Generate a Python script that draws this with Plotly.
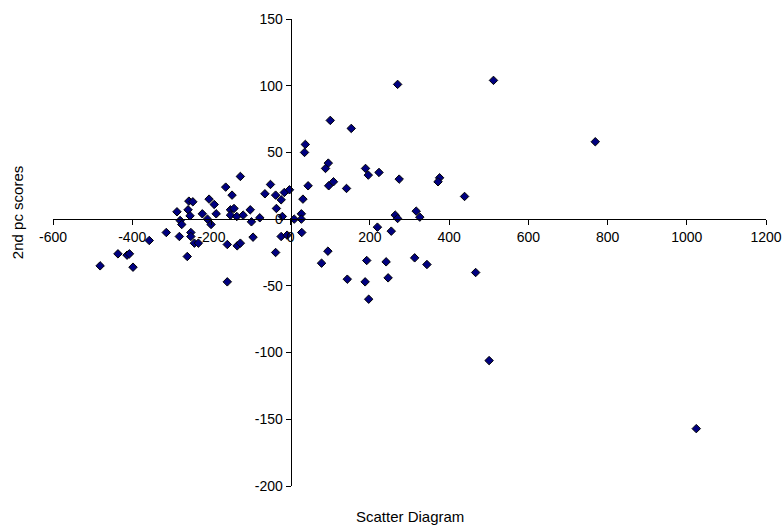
import plotly.graph_objects as go

# First principal component scores (x) and second pc scores (y)
pc1_scores = [
    -481, -436, -413, -407, -398, -357, -314, -287, -279, -275,
    -281, -261, -257, -247, -259, -254, -252, -252, -243, -233,
    -223, -210, -206, -193, -201, -188, -164, -148, -127, -152,
    -152, -143, -136, -120, -102, -99, -78, -95, -160, -160,
    -135, -127, -65, -51, -38, -24, -36, -21, -16, -3,
    -24, -9, -38, 9,
    270, 512, 100, 153, 37, 35, 95, 88, 189, 223,
    196, 274, 376, 372, 108, 96, 44, 141, 439, 31,
    317, 326, 264, 270, 27, 27, 219, 254, 28, 94,
    78, 192, 241, 313, 344, 467, 143, 188, 246, 197,
    769, 501, 1024,
]
pc2_scores = [
    -35, -26, -27, -26, -36, -16, -10, 5.5, -1, -4,
    -13, -28, 13.5, 13, 7, 2.5, -10, -13, -18, -18,
    4, 0, 15, 11, -4, 4, 24, 18, 32, 7,
    3, 8, 2, 3, 7, -2, 1, -13.5, -19, -47,
    -20, -18, 19, 26, 18, 14.5, 8, 2, 20, 22,
    -13, -12, -25, 0,
    101, 104, 74, 68, 56, 50, 42, 38, 38, 35,
    33, 30, 31, 28, 28, 25, 25, 23, 17, 15,
    6, 1.5, 3, 0.5, 4, 0, -6, -9, -10, -24,
    -33, -31, -32, -29, -34, -40, -45, -47, -44, -60,
    58, -106, -157,
]

x_ticks = [-600, -400, -200, 0, 200, 400, 600, 800, 1000, 1200]
y_ticks = [-200, -150, -100, -50, 0, 50, 100, 150]

tick_font = dict(family="Liberation Sans, Arial, sans-serif", size=14, color="black")
title_font = dict(family="Liberation Sans, Arial, sans-serif", size=15, color="black")

fig = go.Figure(
    go.Scatter(
        x=pc1_scores,
        y=pc2_scores,
        mode="markers",
        marker=dict(symbol="diamond", size=6.5, color="#000080",
                    line=dict(color="black", width=1)),
        showlegend=False,
    )
)

common_axis = dict(
    showgrid=False,
    zeroline=False,
    showline=True,
    linecolor="black",
    linewidth=1,
    ticks="outside",
    ticklen=5,
    tickcolor="black",
    anchor="free",
    automargin=False,
    tickfont=tick_font,
)

fig.update_layout(
    width=784,
    height=529,
    margin=dict(l=53, r=18, t=19, b=43, autoexpand=False),
    paper_bgcolor="white",
    plot_bgcolor="white",
    font=tick_font,
    xaxis=dict(
        range=[-600, 1200],
        tickvals=x_ticks,
        ticktext=[str(v) for v in x_ticks],
        position=200 / 350,
        **common_axis,
    ),
    yaxis=dict(
        range=[-200, 150],
        tickvals=y_ticks,
        ticktext=[str(v) for v in y_ticks],
        position=600 / 1800,
        **common_axis,
    ),
    annotations=[
        dict(text="Scatter Diagram", xref="paper", yref="paper",
             x=0.5, y=-0.066, xanchor="center", yanchor="middle",
             showarrow=False, font=title_font),
        dict(text="2nd pc scores", xref="paper", yref="paper",
             x=-0.05, y=0.585, xanchor="center", yanchor="middle",
             textangle=-90, showarrow=False, font=title_font),
    ],
)

fig.write_html(
    "out.html",
    config={"displayModeBar": False},
    post_script="document.body.style.margin='0';document.body.style.overflow='hidden';",
)
